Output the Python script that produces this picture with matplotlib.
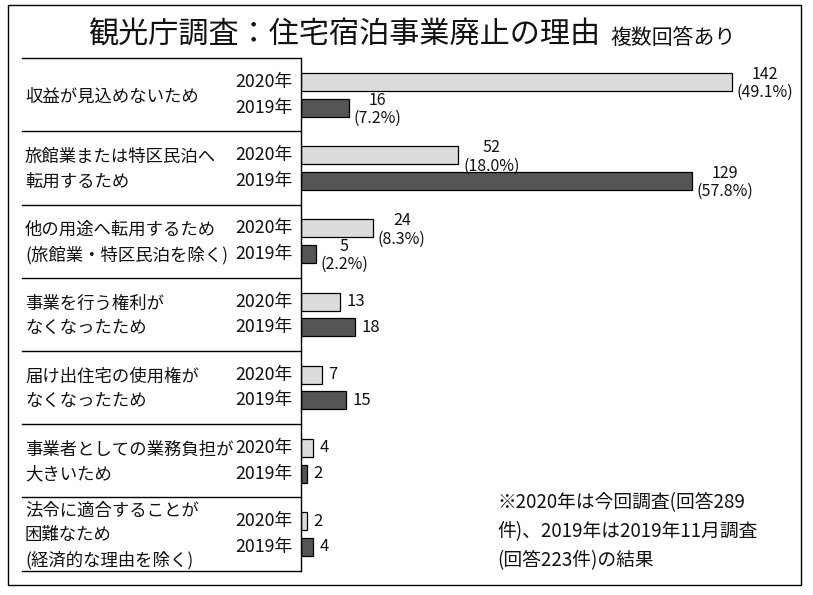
import matplotlib
matplotlib.use("Agg")
import matplotlib.pyplot as plt
from matplotlib.patches import Rectangle
from matplotlib.lines import Line2D
import matplotlib.transforms as mtransforms

plt.rcParams['font.family'] = ['Noto Sans CJK JP', 'DejaVu Sans']

# ---- data ----
categories = [
    "収益が見込めないため",
    "旅館業または特区民泊へ\n転用するため",
    "他の用途へ転用するため\n(旅館業・特区民泊を除く)",
    "事業を行う権利が\nなくなったため",
    "届け出住宅の使用権が\nなくなったため",
    "事業者としての業務負担が\n大きいため",
    "法令に適合することが\n困難なため\n(経済的な理由を除く)",
]
years = ["2020年", "2019年"]
values_2020 = [142, 52, 24, 13, 7, 4, 2]
values_2019 = [16, 129, 5, 18, 15, 2, 4]
pct_2020 = ["49.1%", "18.0%", "8.3%", None, None, None, None]
pct_2019 = ["7.2%", "57.8%", "2.2%", None, None, None, None]
title = "観光庁調査：住宅宿泊事業廃止の理由"
subtitle = "複数回答あり"
note_lines = ["※2020年は今回調査(回答289", "件)、2019年は2019年11月調査", "(回答223件)の結果"]

W, H = 813, 595
fig = plt.figure(figsize=(W / 100, H / 100), dpi=100)
fig.patch.set_facecolor("white")

def fx(px):
    return px / W

def fy(py):
    return (H - py) / H

# outer border
fig.add_artist(Rectangle((fx(8), fy(585)), fx(801) - fx(8), fy(5) - fy(585),
                         transform=fig.transFigure, fill=False, edgecolor="black", lw=1.0))

# title
fig.text(fx(88), fy(44), title, fontsize=21.7, va="baseline", ha="left", color="#111111")
fig.text(fx(610), fy(44), subtitle, fontsize=15, va="baseline", ha="left", color="#111111")

ax_left, ax_right = 300.5, 786.6
ax_top, ax_bot = 58.3, 570.5
ax = fig.add_axes([fx(ax_left), fy(ax_bot), fx(ax_right) - fx(ax_left), fy(ax_top) - fy(ax_bot)])
n = len(categories)
ax.set_xlim(0, 160)
ax.set_ylim(n - 0.5, -0.5)
for s in ["top", "right", "bottom"]:
    ax.spines[s].set_visible(False)
ax.spines["left"].set_linewidth(1.0)
ax.set_xticks([])
ax.set_yticks([])
ax.patch.set_alpha(0)

off = 0.175
bh = 0.245
ypos = list(range(n))
y20 = [y - off for y in ypos]
y19 = [y + off for y in ypos]
ax.barh(y20, values_2020, height=bh, color="#dcdcdc", edgecolor="black", linewidth=0.9)
ax.barh(y19, values_2019, height=bh, color="#555555", edgecolor="black", linewidth=0.9)

val_fs = 11.5
for yy, v, p in list(zip(y20, values_2020, pct_2020)) + list(zip(y19, values_2019, pct_2019)):
    if p:
        ax.text(v + 1.5, yy + 0.02, f"{v}\n({p})", fontsize=val_fs, ha="left", va="center",
                multialignment="center", linespacing=1.1, color="#111111")
    else:
        ax.text(v + 2.2, yy, f"{v}", fontsize=val_fs + 0.5, ha="left", va="center", color="#111111")

# left label box
blend = mtransforms.blended_transform_factory(fig.transFigure, ax.transData)
for i in range(n + 1):
    fig.add_artist(Line2D([fx(22), fx(ax_left)], [i - 0.5, i - 0.5], transform=blend,
                          color="black", lw=1.0))

for i, cat in enumerate(categories):
    ax.text(fx(25), i + 0.02, cat, transform=blend, fontsize=12.5, ha="left", va="center",
            linespacing=1.45, color="#111111")
    ax.text(fx(293), y20[i], years[0], transform=blend, fontsize=12.8, ha="right", va="center",
            color="#111111")
    ax.text(fx(293), y19[i], years[1], transform=blend, fontsize=12.8, ha="right", va="center",
            color="#111111")

# footnote
for k, line in enumerate(note_lines):
    fig.text(fx(497), fy(503 + 29 * k), line, fontsize=13.5, ha="left", va="center", color="#111111")

fig.savefig("out.png", dpi=100)
